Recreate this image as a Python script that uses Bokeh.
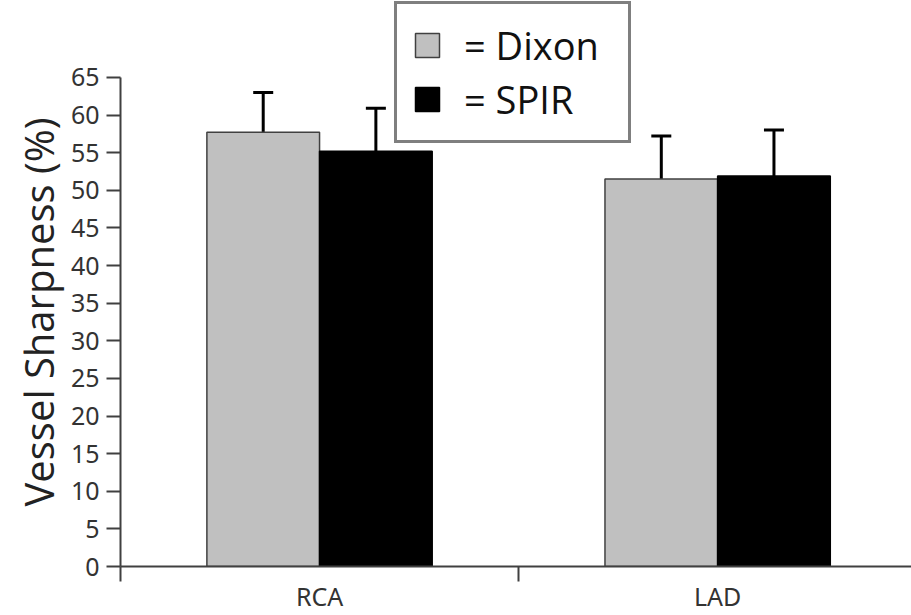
from bokeh.plotting import figure
from bokeh.models import (FixedTicker, Whisker, ColumnDataSource, Legend,
                          LegendItem, TeeHead, Range1d, Title)
from bokeh.embed import file_html
from bokeh.resources import INLINE

# ---- data ----
categories = ["RCA", "LAD"]
dixon = [57.7, 51.5]
dixon_err = [5.3, 5.7]
spir = [55.2, 51.9]
spir_err = [5.7, 6.1]
y_ticks = list(range(0, 70, 5))

# ---- layout ----
centers = [i + 0.5 for i in range(len(categories))]
bw = 0.283
x_d = [c - bw / 2 for c in centers]
x_s = [c + bw / 2 for c in centers]

src_d = ColumnDataSource(dict(x=x_d, top=dixon,
                              hi=[v + e for v, e in zip(dixon, dixon_err)]))
src_s = ColumnDataSource(dict(x=x_s, top=spir,
                              hi=[v + e for v, e in zip(spir, spir_err)]))

p = figure(width=911, height=615, output_backend="svg",
           toolbar_location=None,
           x_range=Range1d(0, 1.987), y_range=Range1d(0, 75.22),
           min_border_left=120, min_border_right=0, min_border_top=0,
           min_border_bottom=48)
p.outline_line_color = None
p.xgrid.visible = False
p.ygrid.visible = False

r_d = p.vbar(x="x", top="top", width=bw, bottom=0, source=src_d,
             fill_color="#c0c0c0", line_color="#404040", line_width=1.5)
r_s = p.vbar(x="x", top="top", width=bw, bottom=0, source=src_s,
             fill_color="black", line_color="black", line_width=1.5)

for src in (src_d, src_s):
    w = Whisker(base="x", lower="top", upper="hi", source=src, dimension="height",
                lower_head=None,
                upper_head=TeeHead(size=20, line_width=3, line_color="black"),
                line_width=3, line_color="black")
    p.add_layout(w)

# y axis
p.yaxis.ticker = FixedTicker(ticks=y_ticks)
p.yaxis.bounds = (y_ticks[0], y_ticks[-1])
p.yaxis.minor_tick_line_color = None
p.yaxis.major_tick_out = 14
p.yaxis.major_tick_in = 0
p.yaxis.axis_line_width = 2
p.yaxis.axis_line_color = "#404040"
p.yaxis.major_tick_line_width = 2
p.yaxis.major_tick_line_color = "#404040"
p.yaxis.major_label_text_font = "Noto Sans"
p.yaxis.major_label_text_font_size = "25px"
p.yaxis.major_label_text_color = "#333333"
p.yaxis.major_label_standoff = 7

ytitle = Title(text="Vessel Sharpness (%)", align="left", offset=60,
               text_font="Open Sans", text_font_size="40px",
               text_font_style="normal", text_color="#222222", standoff=4)
p.add_layout(ytitle, "left")

# x axis
p.xaxis.ticker = FixedTicker(ticks=centers, minor_ticks=[0, 1, 2])
p.xaxis.major_label_overrides = {c: lab for c, lab in zip(centers, categories)}
p.xaxis.major_tick_out = 0
p.xaxis.major_tick_in = 0
p.xaxis.minor_tick_out = 15
p.xaxis.minor_tick_in = 0
p.xaxis.minor_tick_line_width = 2
p.xaxis.minor_tick_line_color = "#404040"
p.xaxis.axis_line_width = 2
p.xaxis.axis_line_color = "#404040"
p.xaxis.major_label_text_font = "Noto Sans"
p.xaxis.major_label_text_font_size = "25px"
p.xaxis.major_label_text_color = "#333333"
p.xaxis.major_label_standoff = -3

legend = Legend(items=[LegendItem(label="= Dixon", renderers=[r_d]),
                       LegendItem(label="= SPIR", renderers=[r_s])],
                location=(274, 423), glyph_width=30, glyph_height=30,
                label_text_font="Open Sans", label_text_font_size="38px",
                label_text_color="#111111",
                label_height=30, label_width=149,
                padding=15, spacing=2, margin=0, label_standoff=22,
                border_line_color="black", border_line_width=3,
                background_fill_alpha=1.0)
p.add_layout(legend)

open("out.html", "w").write(file_html(p, INLINE))
